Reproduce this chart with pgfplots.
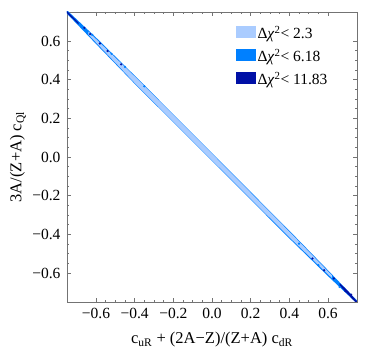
\documentclass[border=0pt]{standalone}
\usepackage{fontspec}
\setmainfont{Liberation Serif}
\usepackage{pgfplots}
\pgfplotsset{compat=1.18}
\definecolor{lightb}{RGB}{170,204,255}
\definecolor{medb}{RGB}{0,128,255}
\definecolor{darkb}{RGB}{0,16,166}
\begin{document}
\begin{tikzpicture}
\begin{axis}[
    width=290pt, height=290pt, scale only axis,
    xmin=-0.75, xmax=0.75, ymin=-0.75, ymax=0.75,
    xtick={-0.6,-0.4,-0.2,0,0.2,0.4,0.6},
    ytick={-0.6,-0.4,-0.2,0,0.2,0.4,0.6},
    xticklabels={−0.6,−0.4,−0.2,0.0,0.2,0.4,0.6},
    yticklabels={−0.6,−0.4,−0.2,0.0,0.2,0.4,0.6},
    minor tick num=3,
    tick align=inside,
    major tick length=4pt, minor tick length=2pt,
    axis line style={black!55},
    tick style={black!55, line width=0.5pt},
    ticklabel style={font=\fontsize{15.5}{17}\selectfont},
    xticklabel style={yshift=-3pt},
    yticklabel style={xshift=-3pt},
    label style={font=\fontsize{16.5}{18}\selectfont},
    xlabel={c\textsubscript{uR} + (2A−Z)/(Z+A) c\textsubscript{dR}},
    ylabel={3A/(Z+A) c\textsubscript{Ql}},
    xlabel style={at={(axis description cs:0.5,-0.131)}, anchor=center},
    ylabel style={at={(axis description cs:-0.169,0.5)}, anchor=center},
    legend style={at={(0.57,0.965)}, anchor=north west, draw=none, fill=none,
        font=\fontsize{15.5}{17}\selectfont, row sep=5pt},
    legend cell align=left,
    legend image code/.code={\fill[#1] (0pt,-5pt) rectangle (20pt,7pt);},
]
% outer (Delta chi^2 < 6.18)
\addplot[fill=medb, draw=none, forget plot] coordinates {
 (-0.75,0.759) (-0.6,0.618) (-0.4,0.421) (0,0.02) (0.4,-0.381) (0.6,-0.586) (0.75,-0.742)
 (0.75,-0.758) (0.6,-0.616) (0.4,-0.421) (0,-0.02) (-0.4,0.379) (-0.6,0.585) (-0.75,0.741)
} -- cycle;
% inner (Delta chi^2 < 2.3)
\addplot[fill=lightb, draw=none, forget plot] coordinates {
 (-0.64,0.649) (-0.4,0.417) (0,0.017) (0.4,-0.386) (0.62,-0.612)
 (0.62,-0.626) (0.4,-0.415) (0,-0.017) (-0.4,0.383) (-0.64,0.634)
} -- cycle;
% outer bits (Delta chi^2 < 11.83)
\addplot[fill=darkb, draw=none, forget plot] coordinates {
 (-0.75,0.754) (-0.72,0.725) (-0.69,0.694) (-0.69,0.686) (-0.72,0.715) (-0.75,0.744)
} -- cycle;
\addplot[fill=darkb, draw=none, forget plot] coordinates {
 (0.66,-0.652) (0.7,-0.69) (0.74,-0.735) (0.75,-0.746) (0.75,-0.758) (0.72,-0.728) (0.68,-0.686) (0.66,-0.664)
} -- cycle;
\addplot[only marks, mark=*, mark size=0.9pt, darkb, forget plot] coordinates {
 (-0.66,0.668) (-0.63,0.636) (-0.58,0.587) (-0.54,0.548) (-0.47,0.479)
 (0.52,-0.525) (0.58,-0.586) (0.63,-0.628) (0.69,-0.694) (0.72,-0.712)
};
\addplot[only marks, mark=*, mark size=0.9pt, medb, forget plot] coordinates {
 (-0.62,0.632) (-0.52,0.534) (-0.45,0.466) (-0.35,0.366) (0.45,-0.448) (0.55,-0.56) (0.66,-0.672)
};
\addlegendimage{fill=lightb, draw=none}
\addlegendentry{Δ\textit{χ}\textsuperscript{2}< 2.3}
\addlegendimage{fill=medb, draw=none}
\addlegendentry{Δ\textit{χ}\textsuperscript{2}< 6.18}
\addlegendimage{fill=darkb, draw=none}
\addlegendentry{Δ\textit{χ}\textsuperscript{2}< 11.83}
\end{axis}
\path (current axis.south west) ++(-67pt,-55pt);
\path (current axis.north east) ++(17pt,12pt);
\end{tikzpicture}
\end{document}
